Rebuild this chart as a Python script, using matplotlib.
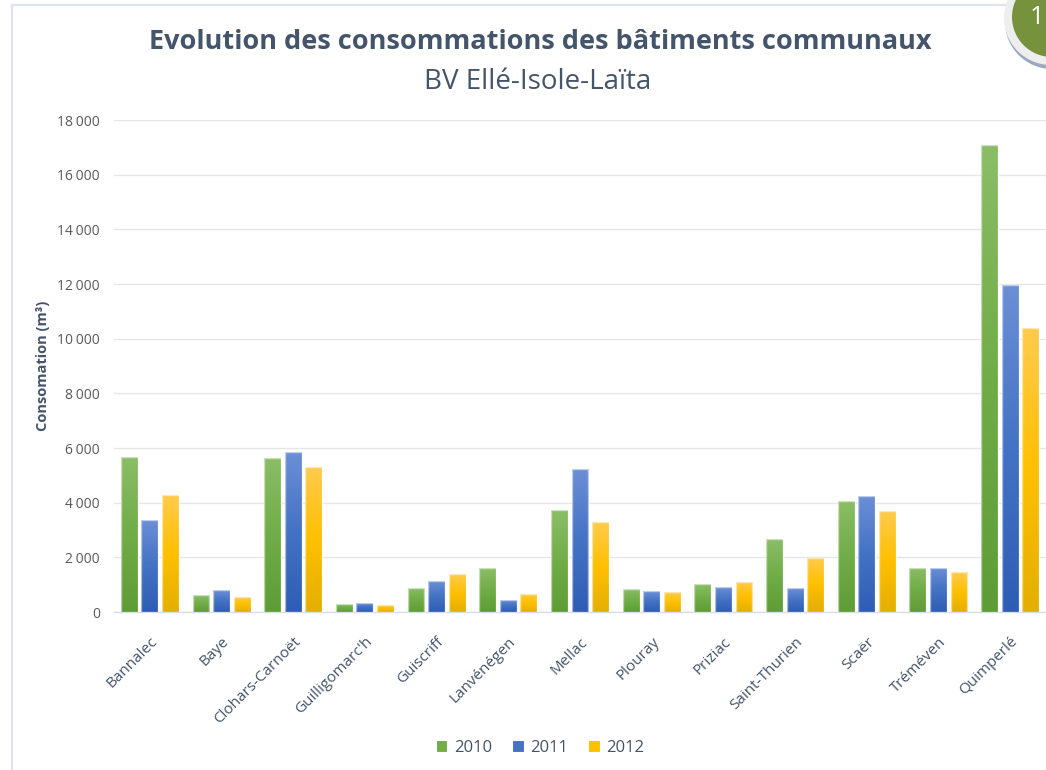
import numpy as np
import matplotlib
matplotlib.use("Agg")
import matplotlib.pyplot as plt
from matplotlib.patches import Rectangle, Ellipse
from matplotlib.colors import LinearSegmentedColormap
from matplotlib.ticker import FuncFormatter

communes = ["Bannalec", "Baye", "Clohars-Carnoët", "Guilligomarc'h", "Guiscriff",
            "Lanvénégen", "Mellac", "Plouray", "Priziac", "Saint-Thurien",
            "Scaër", "Tréméven", "Quimperlé"]
years = ["2010", "2011", "2012"]
v2010 = [5680, 620, 5650, 300, 880, 1600, 3720, 840, 1010, 2660, 4060, 1620, 17090]
v2011 = [3370, 790, 5840, 330, 1130, 440, 5220, 760, 900, 870, 4230, 1620, 11960]
v2012 = [4290, 560, 5300, 270, 1390, 670, 3290, 730, 1100, 1980, 3700, 1450, 10390]
yticks = [0, 2000, 4000, 6000, 8000, 10000, 12000, 14000, 16000, 18000]

series = [v2010, v2011, v2012]
colors = ["#70AD47", "#4472C4", "#FFC000"]
grad_top = ["#8BBD66", "#6B8FD6", "#FFCB4D"]
grad_bot = ["#5E9C36", "#2E5DB5", "#E3AF00"]

plt.rcParams['font.family'] = ['Open Sans', 'DejaVu Sans']
fig = plt.figure(figsize=(10.46, 7.7), dpi=100)
W, H = 1046, 770
ax = fig.add_axes([114 / W, 1 - 612 / H, (1046 - 114) / W, (612 - 120) / H])

x = np.arange(len(communes))
bw = 0.235
off = 0.287
for i, (vals, c) in enumerate(zip(series, colors)):
    bars = ax.bar(x + (i - 1) * off, vals, width=bw, color=c, label=years[i],
                  edgecolor="white", linewidth=0.8, zorder=3)
    cmap = LinearSegmentedColormap.from_list("g%d" % i, [grad_bot[i], colors[i], grad_top[i]])
    grad = np.linspace(0, 1, 100).reshape(-1, 1)
    for b in bars:
        bx, by = b.get_x(), b.get_y()
        bwid, bh = b.get_width(), b.get_height()
        im = ax.imshow(grad, cmap=cmap, aspect='auto', origin='lower',
                       extent=[bx, bx + bwid, by, by + bh], zorder=3.5)
        im.set_clip_path(b)
        ax.add_patch(Rectangle((bx, by), bwid, bh, fill=False,
                               edgecolor=(1, 1, 1, 0.55), linewidth=1.0, zorder=4))

ax.set_xlim(-0.5, len(communes) - 0.5)
ax.set_ylim(0, 18000)
ax.set_yticks(yticks)
ax.yaxis.set_major_formatter(FuncFormatter(lambda v, p: f"{int(v):,}".replace(",", "\u202f") if v >= 1000 else f"{int(v)}"))
ax.grid(axis='y', color="#E6E6E6", linewidth=1.0, zorder=0)
ax.set_axisbelow(True)
for s in ["top", "right", "left"]:
    ax.spines[s].set_visible(False)
ax.spines["bottom"].set_color("#D9DEE6")
ax.spines["bottom"].set_linewidth(1.0)
ax.tick_params(axis='both', length=0, labelcolor="#595959", labelsize=10)
ax.tick_params(axis='y', pad=10)
ax.set_xticks(x)
ax.set_xticklabels(communes, rotation=45, ha='right', va='top', rotation_mode='anchor',
                   fontsize=11, color="#44546A")
ax.tick_params(axis='x', pad=16)
ax.set_ylabel("Consomation (m³)", fontsize=10.5, fontweight='bold', color="#44546A", labelpad=5)

fig.text(540 / W, 1 - 42 / H, "Evolution des consommations des bâtiments communaux",
         ha='center', va='center', fontsize=19.5, fontweight='bold', color="#44546A")
fig.text(538 / W, 1 - 82 / H, "BV Ellé-Isole-Laïta",
         ha='center', va='center', fontsize=20, color="#44546A")

leg = fig.legend(loc='center', bbox_to_anchor=(540 / W, 1 - 748 / H), ncol=3, frameon=False,
                 fontsize=12, handlelength=0.7, handleheight=0.7, handletextpad=0.4,
                 columnspacing=1.2, labelcolor="#44546A")

# frame around the slide content
fig.add_artist(plt.Line2D([12 / W, 12 / W], [0, 1 - 5 / H], color="#DDE3EA", linewidth=1.5,
                          transform=fig.transFigure))
fig.add_artist(plt.Line2D([12 / W, 1], [1 - 5 / H, 1 - 5 / H], color="#DDE3EA", linewidth=1.5,
                          transform=fig.transFigure))

# badge in the top right corner
def circ(cx, cy, r, color, z):
    e = Ellipse((cx / W, 1 - cy / H), 2 * r / W, 2 * r / H, facecolor=color,
                edgecolor='none', transform=fig.transFigure, zorder=z)
    fig.add_artist(e)
circ(1052, 22, 47, "#9AA9BE", 10)
circ(1051, 18, 47, "#EEEEEE", 11)
circ(1052, 17, 40, "#76923C", 12)
fig.text(1044 / W, 1 - 17 / H, "1", ha='right', va='center', fontsize=18, color="white", zorder=13)

fig.savefig("out.png", dpi=100)
